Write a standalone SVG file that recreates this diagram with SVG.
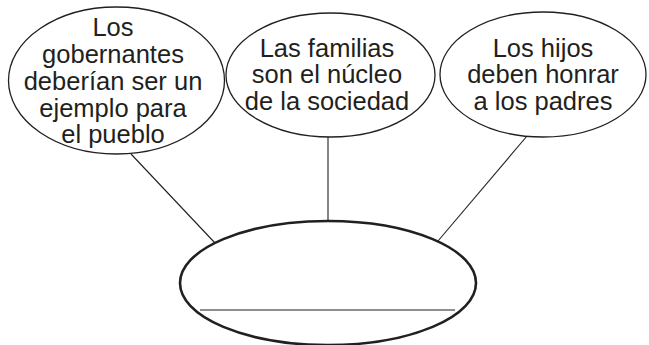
<svg xmlns="http://www.w3.org/2000/svg" width="649" height="345" viewBox="0 0 649 345">
<style>
.bubble{fill:#fff;stroke:#231f20;stroke-width:1.3}
.main{fill:#fff;stroke:#231f20;stroke-width:2.6}
.conn{stroke:#231f20;stroke-width:1.1;fill:none}
text{font-family:"Liberation Sans",Arial,sans-serif;font-size:25.5px;fill:#231f20;text-anchor:middle}
</style>
<rect width="649" height="345" fill="#fff"/>
<g id="connectors">
<line class="conn" x1="131" y1="154" x2="215" y2="243"/>
<line class="conn" x1="328" y1="137" x2="328" y2="221"/>
<line class="conn" x1="527" y1="136" x2="438" y2="241"/>
</g>
<g id="node-gobernantes">
<ellipse class="bubble" cx="116.5" cy="80.5" rx="108" ry="73.5"/>
<text x="113" y="36">Los</text>
<text x="113" y="63">gobernantes</text>
<text x="113" y="89.5">deberían ser un</text>
<text x="113" y="116.5">ejemplo para</text>
<text x="113" y="143">el pueblo</text>
</g>
<g id="node-familias">
<ellipse class="bubble" cx="330.5" cy="75" rx="104.5" ry="62"/>
<text x="327" y="56.5">Las familias</text>
<text x="327" y="83">son el núcleo</text>
<text x="327" y="109.5">de la sociedad</text>
</g>
<g id="node-hijos">
<ellipse class="bubble" cx="543" cy="74.5" rx="103" ry="62.5"/>
<text x="543" y="56.5">Los hijos</text>
<text x="543" y="83">deben honrar</text>
<text x="543" y="109.5">a los padres</text>
</g>
<g id="node-main">
<ellipse class="main" cx="328" cy="283" rx="148" ry="62"/>
<line class="conn" x1="200" y1="310" x2="455" y2="310"/>
</g>
</svg>
